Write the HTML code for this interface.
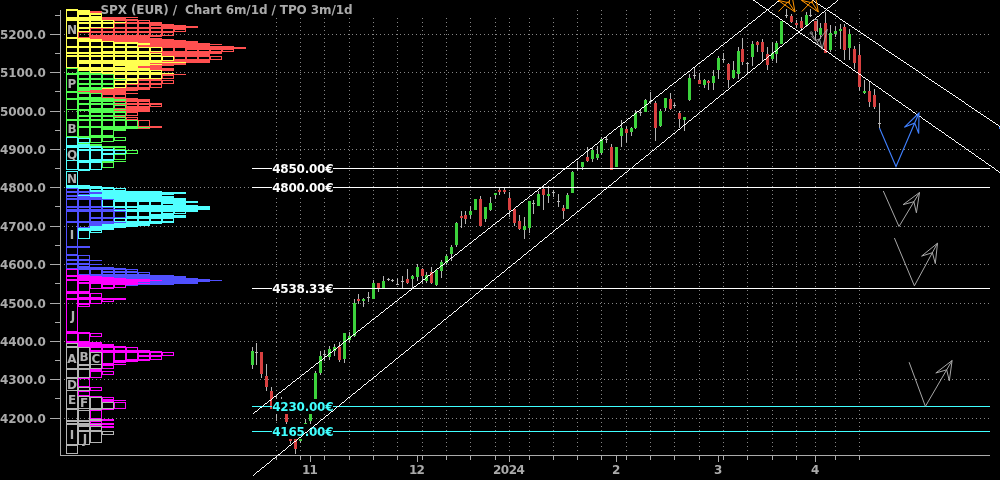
<!DOCTYPE html>
<html lang="en"><head><meta charset="utf-8"><title>SPX (EUR) / Chart 6m/1d / TPO 3m/1d</title>
<style>
html,body{margin:0;padding:0;background:#000;overflow:hidden}
body{width:1000px;height:480px;position:relative;font-family:"DejaVu Sans","Liberation Sans",sans-serif}
svg{position:absolute;left:0;top:0;display:block}
text{font-family:"DejaVu Sans","Liberation Sans",sans-serif;font-weight:bold;font-size:12px}
.ax{fill:#aaa}
.g{stroke:#868686;stroke-width:1;stroke-dasharray:1 3;fill:none}
.c{shape-rendering:crispEdges}
</style></head><body>
<svg width="1000" height="480" viewBox="0 0 1000 480">
<rect width="1000" height="480" fill="#000"/>
<g class="g c">
<line x1="276.5" y1="18" x2="276.5" y2="452"/>
<line x1="300.5" y1="18" x2="300.5" y2="452"/>
<line x1="324.5" y1="18" x2="324.5" y2="452"/>
<line x1="349.5" y1="18" x2="349.5" y2="452"/>
<line x1="373.5" y1="18" x2="373.5" y2="452"/>
<line x1="397.5" y1="18" x2="397.5" y2="452"/>
<line x1="422.5" y1="18" x2="422.5" y2="452"/>
<line x1="446.5" y1="18" x2="446.5" y2="452"/>
<line x1="470.5" y1="18" x2="470.5" y2="452"/>
<line x1="495.5" y1="18" x2="495.5" y2="452"/>
<line x1="509.5" y1="18" x2="509.5" y2="452"/>
<line x1="529.5" y1="18" x2="529.5" y2="452"/>
<line x1="553.5" y1="18" x2="553.5" y2="452"/>
<line x1="577.5" y1="10" x2="577.5" y2="452"/>
<line x1="601.5" y1="10" x2="601.5" y2="452"/>
<line x1="626.5" y1="10" x2="626.5" y2="452"/>
<line x1="650.5" y1="10" x2="650.5" y2="452"/>
<line x1="674.5" y1="10" x2="674.5" y2="452"/>
<line x1="699.5" y1="10" x2="699.5" y2="452"/>
<line x1="723.5" y1="10" x2="723.5" y2="452"/>
<line x1="747.5" y1="10" x2="747.5" y2="452"/>
<line x1="772.5" y1="10" x2="772.5" y2="452"/>
<line x1="796.5" y1="10" x2="796.5" y2="452"/>
<line x1="815.5" y1="10" x2="815.5" y2="452"/>
<line x1="835.5" y1="10" x2="835.5" y2="452"/>
<line x1="859.5" y1="10" x2="859.5" y2="452"/>
<line x1="64" y1="418.5" x2="990" y2="418.5"/>
<line x1="64" y1="379.5" x2="990" y2="379.5"/>
<line x1="64" y1="341.5" x2="990" y2="341.5"/>
<line x1="64" y1="303.5" x2="990" y2="303.5"/>
<line x1="64" y1="264.5" x2="990" y2="264.5"/>
<line x1="64" y1="226.5" x2="990" y2="226.5"/>
<line x1="64" y1="187.5" x2="990" y2="187.5"/>
<line x1="64" y1="149.5" x2="990" y2="149.5"/>
<line x1="64" y1="111.5" x2="990" y2="111.5"/>
<line x1="64" y1="72.5" x2="990" y2="72.5"/>
<line x1="64" y1="34.5" x2="990" y2="34.5"/>
</g>
<g class="c"><path fill="#b4b4b4" d="M252 347h1v22h-1zM256 343h1v22h-1zM261 352h1v26h-1zM266 364h1v27h-1zM271 387h1v22h-1zM276 396h1v25h-1zM281 397h1v15h-1zM286 405h1v19h-1zM290 425h1v19h-1zM295 430h1v24h-1zM300 432h1v11h-1zM305 419h1v4h-1zM310 410h1v14h-1zM315 371h1v29h-1zM320 351h1v24h-1zM324 350h1v11h-1zM329 346h1v14h-1zM334 344h1v12h-1zM339 342h1v20h-1zM344 333h1v30h-1zM349 332h1v11h-1zM354 299h1v38h-1zM358 294h1v10h-1zM363 298h1v9h-1zM368 292h1v10h-1zM373 280h1v19h-1zM378 283h1v9h-1zM383 276h1v12h-1zM388 278h1v3h-1zM392 279h1v3h-1zM397 278h1v7h-1zM402 276h1v12h-1zM407 269h1v15h-1zM412 275h1v13h-1zM417 264h1v17h-1zM422 268h1v16h-1zM426 272h1v11h-1zM431 267h1v17h-1zM436 270h1v16h-1zM441 260h1v18h-1zM446 254h1v11h-1zM451 245h1v16h-1zM456 222h1v25h-1zM461 211h1v17h-1zM465 211h1v13h-1zM470 206h1v13h-1zM475 199h1v11h-1zM480 196h1v30h-1zM485 207h1v15h-1zM490 197h1v14h-1zM495 193h1v6h-1zM499 188h1v7h-1zM504 188h1v6h-1zM509 192h1v25h-1zM514 209h1v17h-1zM519 215h1v15h-1zM524 217h1v22h-1zM529 201h1v32h-1zM533 200h1v14h-1zM538 191h1v15h-1zM543 186h1v24h-1zM548 186h1v17h-1zM553 190h1v7h-1zM558 194h1v13h-1zM563 205h1v14h-1zM567 193h1v16h-1zM572 171h1v22h-1zM577 161h1v10h-1zM582 162h1v8h-1zM587 147h1v15h-1zM592 148h1v14h-1zM597 146h1v14h-1zM601 137h1v18h-1zM606 136h1v7h-1zM611 144h1v26h-1zM616 147h1v20h-1zM621 120h1v27h-1zM626 126h1v17h-1zM631 127h1v9h-1zM635 110h1v19h-1zM640 109h1v7h-1zM645 99h1v13h-1zM650 92h1v12h-1zM655 101h1v40h-1zM660 109h1v18h-1zM665 98h1v13h-1zM670 93h1v17h-1zM674 103h1v5h-1zM679 111h1v17h-1zM684 117h1v14h-1zM689 74h1v27h-1zM694 68h1v11h-1zM699 73h1v11h-1zM704 79h1v9h-1zM708 80h1v10h-1zM713 70h1v20h-1zM718 56h1v23h-1zM723 53h1v10h-1zM728 63h1v25h-1zM733 61h1v18h-1zM738 47h1v32h-1zM742 38h1v27h-1zM747 62h1v12h-1zM752 41h1v25h-1zM757 41h1v11h-1zM762 39h1v23h-1zM767 47h1v23h-1zM772 42h1v19h-1zM776 41h1v22h-1zM781 21h1v23h-1zM786 9h1v9h-1zM791 14h1v9h-1zM796 20h1v8h-1zM801 17h1v14h-1zM806 12h1v15h-1zM810 9h1v8h-1zM815 21h1v19h-1zM820 23h1v16h-1zM825 12h1v41h-1zM830 25h1v27h-1zM835 26h1v11h-1zM840 24h1v25h-1zM844 24h1v36h-1zM849 29h1v31h-1zM854 46h1v23h-1zM859 44h1v47h-1zM864 80h1v14h-1zM869 82h1v25h-1zM874 89h1v20h-1zM879 103h1v25h-1z"/><path fill="#3cd23c" d="M251 351h3v14h-3zM299 436h3v5h-3zM304 423h3v1h-3zM309 412h3v9h-3zM314 373h3v27h-3zM319 356h3v17h-3zM328 349h3v8h-3zM333 347h3v4h-3zM343 333h3v26h-3zM348 336h3v4h-3zM353 303h3v33h-3zM362 299h3v2h-3zM372 283h3v16h-3zM382 281h3v7h-3zM411 276h3v3h-3zM416 267h3v10h-3zM425 275h3v6h-3zM435 270h3v15h-3zM440 262h3v9h-3zM445 256h3v7h-3zM450 247h3v7h-3zM455 223h3v22h-3zM469 211h3v4h-3zM474 199h3v11h-3zM484 207h3v12h-3zM489 203h3v7h-3zM494 193h3v2h-3zM523 226h3v4h-3zM528 201h3v27h-3zM537 194h3v12h-3zM547 194h3v2h-3zM566 195h3v14h-3zM571 172h3v21h-3zM581 162h3v5h-3zM591 150h3v9h-3zM596 154h3v4h-3zM600 139h3v14h-3zM615 147h3v20h-3zM620 128h3v8h-3zM630 128h3v4h-3zM634 113h3v15h-3zM644 100h3v12h-3zM659 111h3v15h-3zM664 98h3v10h-3zM683 117h3v3h-3zM688 78h3v22h-3zM703 80h3v5h-3zM712 76h3v7h-3zM717 58h3v12h-3zM732 70h3v8h-3zM737 51h3v23h-3zM751 44h3v13h-3zM771 53h3v6h-3zM775 43h3v11h-3zM780 21h3v23h-3zM805 15h3v10h-3zM819 28h3v7h-3zM829 33h3v17h-3zM834 31h3v3h-3zM839 29h3v2h-3zM848 34h3v14h-3zM863 91h3v2h-3z"/><path fill="#d84040" d="M260 352h3v22h-3zM265 376h3v11h-3zM270 391h3v18h-3zM285 408h3v14h-3zM289 428h3v13h-3zM294 432h3v17h-3zM338 347h3v13h-3zM357 299h3v2h-3zM377 283h3v5h-3zM406 279h3v4h-3zM421 269h3v7h-3zM430 272h3v11h-3zM460 216h3v2h-3zM464 215h3v4h-3zM479 199h3v27h-3zM498 190h3v2h-3zM503 190h3v2h-3zM508 198h3v12h-3zM513 209h3v14h-3zM518 221h3v8h-3zM542 189h3v6h-3zM562 208h3v3h-3zM586 157h3v4h-3zM610 147h3v23h-3zM625 129h3v4h-3zM654 103h3v25h-3zM669 99h3v10h-3zM678 113h3v6h-3zM698 80h3v4h-3zM707 81h3v2h-3zM727 64h3v16h-3zM741 49h3v13h-3zM756 42h3v3h-3zM761 42h3v10h-3zM766 54h3v11h-3zM790 16h3v6h-3zM795 23h3v2h-3zM800 21h3v7h-3zM814 21h3v10h-3zM824 23h3v30h-3zM843 27h3v23h-3zM853 49h3v14h-3zM858 55h3v32h-3zM868 91h3v11h-3zM873 95h3v12h-3z"/><path fill="#b4b4b4" d="M255 352h3v1h-3zM275 405h3v1h-3zM280 405h3v1h-3zM323 354h3v1h-3zM367 297h3v1h-3zM387 279h3v1h-3zM391 280h3v1h-3zM396 284h3v1h-3zM401 281h3v1h-3zM532 203h3v1h-3zM552 192h3v1h-3zM557 201h3v1h-3zM576 168h3v1h-3zM605 139h3v1h-3zM639 112h3v1h-3zM649 101h3v1h-3zM673 105h3v1h-3zM693 75h3v1h-3zM722 59h3v1h-3zM746 63h3v1h-3zM785 15h3v1h-3zM809 15h3v1h-3zM878 123h3v1h-3z"/></g>
<g class="c"><path fill="#ff5050" d="M90 11h12v2h-12zM102 17h36v1h-36zM102 18h24v1h-24zM102 19h36v1h-36zM114 20h36v1h-36zM137 21h2v1h-2zM125 21h2v1h-2zM114 21h1v1h-1zM149 21h1v1h-1zM126 22h36v1h-36zM114 23h48v1h-48zM149 24h25v1h-25zM149 25h37v1h-37zM137 24h2v3h-2zM125 24h2v3h-2zM114 24h1v3h-1zM161 26h37v1h-37zM149 26h2v1h-2zM114 27h84v1h-84zM90 28h96v1h-96zM173 29h13v1h-13zM101 29h2v2h-2zM90 29h1v2h-1zM137 29h2v2h-2zM149 29h2v2h-2zM125 29h2v2h-2zM161 29h2v2h-2zM113 29h2v2h-2zM173 30h2v1h-2zM185 30h1v1h-1zM90 31h96v1h-96zM78 32h96v1h-96zM89 33h2v2h-2zM101 33h2v2h-2zM137 33h2v2h-2zM149 33h2v2h-2zM173 33h1v2h-1zM125 33h2v2h-2zM161 33h2v2h-2zM113 33h2v2h-2zM89 35h85v1h-85zM78 33h1v4h-1zM89 36h73v1h-73zM78 37h72v1h-72zM90 38h72v1h-72zM102 39h72v1h-72zM102 40h84v1h-84zM114 41h84v1h-84zM138 42h60v1h-60zM150 43h60v1h-60zM150 44h72v1h-72zM138 45h72v1h-72zM138 46h96v1h-96zM162 47h84v1h-84zM185 48h61v1h-61zM185 49h49v1h-49zM162 48h1v3h-1zM173 48h2v3h-2zM209 50h2v1h-2zM185 50h2v1h-2zM233 50h1v1h-1zM221 50h2v1h-2zM197 50h2v1h-2zM162 51h72v1h-72zM150 52h72v1h-72zM162 53h60v1h-60zM162 54h48v2h-48zM174 56h48v1h-48zM221 57h1v2h-1zM209 57h2v2h-2zM185 57h2v2h-2zM174 57h1v2h-1zM197 57h2v2h-2zM174 59h48v1h-48zM174 60h36v1h-36zM162 61h48v1h-48zM186 62h24v1h-24zM150 63h36v1h-36zM162 64h24v1h-24zM150 65h24v1h-24zM138 66h24v2h-24zM150 68h24v2h-24zM162 70h12v1h-12zM162 74h24v1h-24zM162 75h12v1h-12zM162 76h1v2h-1zM173 76h1v2h-1zM162 78h12v1h-12zM138 79h24v1h-24zM138 80h36v1h-36zM138 81h1v2h-1zM149 81h2v2h-2zM173 81h1v2h-1zM161 81h2v2h-2zM138 83h36v1h-36zM126 84h36v1h-36zM161 85h1v2h-1zM137 85h2v2h-2zM149 85h2v2h-2zM126 85h1v2h-1zM126 87h36v1h-36zM114 88h36v1h-36zM102 89h48v1h-48zM90 90h48v1h-48zM78 91h48v1h-48zM90 92h36v1h-36zM102 93h36v1h-36zM102 94h24v1h-24zM102 95h1v2h-1zM125 95h1v2h-1zM113 95h2v2h-2zM102 97h24v1h-24zM114 98h24v1h-24zM126 99h24v2h-24zM114 101h36v1h-36zM137 102h2v1h-2zM126 102h1v1h-1zM149 102h1v1h-1zM126 103h36v1h-36zM114 104h48v1h-48zM137 105h2v1h-2zM149 105h2v1h-2zM126 105h1v1h-1zM161 105h1v1h-1zM126 106h36v1h-36zM126 107h24v1h-24zM114 108h36v1h-36zM126 109h24v1h-24zM114 110h36v1h-36zM126 111h24v1h-24zM126 112h12v1h-12zM137 113h1v2h-1zM126 113h1v2h-1zM126 115h12v1h-12zM114 116h12v1h-12zM126 117h12v1h-12zM137 118h1v1h-1zM126 118h1v1h-1zM126 119h12v1h-12zM138 120h12v1h-12zM138 121h1v5h-1zM149 121h1v5h-1zM138 126h24v1h-24zM150 127h12v1h-12zM138 128h12v1h-12z"/><path fill="#ffff50" d="M66 9h12v1h-12zM66 10h24v1h-24zM77 11h13v2h-13zM77 13h25v2h-25zM101 15h1v1h-1zM89 15h2v1h-2zM66 11h1v6h-1zM77 15h2v2h-2zM89 16h13v1h-13zM66 17h36v3h-36zM66 20h48v1h-48zM101 21h2v1h-2zM89 21h2v1h-2zM77 21h2v1h-2zM113 21h1v1h-1zM77 22h49v1h-49zM77 23h37v1h-37zM101 24h2v3h-2zM89 24h2v3h-2zM77 24h2v3h-2zM113 24h1v3h-1zM77 27h37v1h-37zM77 28h13v1h-13zM89 29h1v2h-1zM77 29h2v2h-2zM77 31h13v1h-13zM66 21h1v16h-1zM77 32h1v5h-1zM66 37h12v1h-12zM66 38h24v1h-24zM77 39h25v2h-25zM77 41h37v1h-37zM113 42h25v1h-25zM113 43h37v1h-37zM137 44h13v1h-13zM66 39h1v7h-1zM101 42h2v4h-2zM89 42h2v4h-2zM77 42h2v4h-2zM113 44h2v2h-2zM125 44h2v2h-2zM137 45h1v1h-1zM66 46h72v1h-72zM66 47h96v1h-96zM113 48h2v3h-2zM101 48h2v3h-2zM137 48h2v3h-2zM149 48h2v3h-2zM125 48h2v3h-2zM161 48h1v3h-1zM66 48h1v4h-1zM89 48h2v4h-2zM77 48h2v4h-2zM101 51h61v1h-61zM66 52h84v1h-84zM66 53h96v1h-96zM66 54h1v1h-1zM113 54h2v1h-2zM101 54h2v1h-2zM89 54h2v1h-2zM137 54h2v1h-2zM149 54h2v1h-2zM77 54h2v1h-2zM125 54h2v1h-2zM161 54h1v1h-1zM66 55h96v1h-96zM66 56h108v1h-108zM113 57h2v3h-2zM101 57h2v3h-2zM89 57h2v3h-2zM137 57h2v3h-2zM149 57h2v3h-2zM77 57h2v3h-2zM173 57h1v3h-1zM125 57h2v3h-2zM161 57h2v3h-2zM77 60h97v1h-97zM77 61h85v1h-85zM77 62h109v1h-109zM77 63h73v1h-73zM113 64h49v1h-49zM113 65h37v1h-37zM66 57h1v10h-1zM101 64h2v3h-2zM89 64h2v3h-2zM77 64h2v3h-2zM113 66h2v1h-2zM125 66h13v1h-13zM66 67h72v1h-72zM78 68h72v2h-72zM78 70h84v1h-84zM113 71h2v1h-2zM90 71h1v1h-1zM101 71h2v1h-2zM137 71h2v1h-2zM149 71h2v1h-2zM125 71h2v1h-2zM161 71h1v1h-1zM90 72h72v1h-72zM102 73h72v1h-72zM114 74h48v1h-48zM137 75h2v3h-2zM149 75h2v3h-2zM125 75h2v3h-2zM114 75h1v3h-1zM161 75h1v3h-1zM114 78h48v1h-48zM126 79h12v1h-12zM114 80h24v1h-24zM137 81h1v2h-1zM125 81h2v2h-2zM114 81h1v2h-1zM114 83h24v1h-24zM114 84h12v1h-12zM125 85h1v2h-1zM114 85h1v2h-1zM114 87h12v1h-12zM102 88h12v1h-12z"/><path fill="#50ff50" d="M66 68h12v1h-12zM77 69h1v2h-1zM89 71h1v1h-1zM77 71h2v1h-2zM66 69h1v4h-1zM77 72h13v1h-13zM66 73h36v1h-36zM66 74h48v1h-48zM101 75h2v3h-2zM89 75h2v3h-2zM77 75h2v3h-2zM113 75h1v3h-1zM77 78h37v1h-37zM77 79h49v1h-49zM101 80h2v3h-2zM89 80h2v3h-2zM77 80h2v3h-2zM113 80h1v3h-1zM77 83h37v2h-37zM101 85h2v2h-2zM89 85h2v2h-2zM77 85h2v2h-2zM113 85h1v2h-1zM77 87h37v1h-37zM77 88h25v2h-25zM66 75h1v16h-1zM77 90h13v1h-13zM66 91h12v1h-12zM66 92h24v1h-24zM77 93h25v1h-25zM89 94h2v3h-2zM77 94h2v3h-2zM101 94h1v3h-1zM66 93h1v5h-1zM77 97h25v1h-25zM66 98h48v1h-48zM66 99h60v1h-60zM89 100h37v1h-37zM89 101h25v1h-25zM77 100h2v3h-2zM101 102h2v1h-2zM89 102h2v1h-2zM125 102h1v1h-1zM113 102h2v1h-2zM77 103h49v1h-49zM77 104h37v1h-37zM113 105h13v1h-13zM101 105h2v3h-2zM89 105h2v3h-2zM125 106h1v2h-1zM113 106h2v2h-2zM66 100h1v9h-1zM77 105h2v4h-2zM89 108h25v1h-25zM66 109h60v1h-60zM77 110h37v1h-37zM89 111h37v2h-37zM77 111h2v4h-2zM101 113h2v2h-2zM89 113h2v2h-2zM125 113h1v2h-1zM113 113h2v2h-2zM77 115h49v1h-49zM77 116h37v1h-37zM113 117h13v1h-13zM66 110h1v9h-1zM101 117h2v2h-2zM89 117h2v2h-2zM77 117h2v2h-2zM125 118h1v1h-1zM113 118h2v1h-2zM66 119h60v1h-60zM66 120h72v1h-72zM101 121h2v5h-2zM89 121h2v5h-2zM137 121h1v5h-1zM125 121h2v5h-2zM77 121h2v5h-2zM113 121h2v5h-2zM77 126h61v1h-61zM77 127h73v1h-73zM101 128h37v1h-37zM101 129h25v1h-25zM113 130h13v1h-13zM89 128h2v7h-2zM101 130h2v5h-2zM113 131h1v4h-1zM66 121h1v15h-1zM77 128h2v8h-2zM89 135h25v1h-25zM66 136h48v1h-48zM78 137h48v1h-48zM125 138h1v2h-1zM113 138h2v2h-2zM101 138h2v3h-2zM113 140h13v1h-13zM90 138h1v4h-1zM101 141h13v1h-13zM90 142h12v1h-12zM78 143h12v1h-12zM90 144h12v2h-12zM102 146h24v2h-24zM125 148h1v1h-1zM114 148h1v1h-1zM114 149h12v1h-12zM126 150h12v1h-12zM137 151h1v2h-1zM126 151h1v2h-1zM126 153h12v1h-12zM114 154h12v1h-12zM125 155h1v4h-1zM114 155h1v4h-1zM114 159h12v1h-12zM102 161h24v1h-24zM102 162h12v1h-12zM102 163h1v4h-1zM113 163h1v4h-1zM102 167h12v1h-12z"/><path fill="#50ffff" d="M66 137h12v1h-12zM77 138h13v1h-13zM89 139h1v3h-1zM77 139h2v3h-2zM77 142h13v1h-13zM77 143h1v1h-1zM66 138h1v7h-1zM77 144h13v1h-13zM66 145h24v1h-24zM66 146h36v2h-36zM113 148h1v1h-1zM101 148h2v1h-2zM89 148h2v1h-2zM77 148h2v1h-2zM77 149h37v1h-37zM77 150h49v1h-49zM113 151h2v2h-2zM101 151h2v2h-2zM125 151h1v2h-1zM101 153h25v1h-25zM101 154h13v1h-13zM89 151h2v8h-2zM113 155h1v4h-1zM101 155h2v4h-2zM66 148h1v12h-1zM77 151h2v9h-2zM89 159h25v1h-25zM66 160h48v1h-48zM77 161h25v2h-25zM66 161h1v8h-1zM89 163h2v6h-2zM77 163h2v6h-2zM101 163h1v6h-1zM66 169h36v1h-36zM78 170h12v1h-12zM66 171h12v1h-12zM66 172h1v13h-1zM77 172h1v13h-1zM66 185h24v1h-24zM66 186h36v1h-36zM66 187h48v1h-48zM78 188h48v1h-48zM113 189h2v1h-2zM101 189h2v1h-2zM90 189h1v1h-1zM125 189h1v1h-1zM90 190h36v1h-36zM90 191h72v1h-72zM102 192h84v2h-84zM90 194h84v1h-84zM78 195h84v1h-84zM90 196h84v1h-84zM102 197h72v1h-72zM102 198h84v1h-84zM114 199h72v1h-72zM113 200h73v1h-73zM113 201h85v1h-85zM161 202h37v1h-37zM161 203h25v1h-25zM149 202h2v3h-2zM137 202h2v3h-2zM161 204h2v1h-2zM173 204h13v1h-13zM102 200h1v6h-1zM113 202h2v4h-2zM125 202h2v4h-2zM137 205h61v1h-61zM102 206h108v1h-108zM114 207h96v1h-96zM114 208h1v1h-1zM137 208h73v1h-73zM125 208h2v1h-2zM126 209h84v1h-84zM114 210h84v1h-84zM126 211h72v1h-72zM173 212h2v1h-2zM161 212h2v1h-2zM185 212h1v1h-1zM149 212h2v2h-2zM161 213h25v1h-25zM149 214h25v1h-25zM126 212h1v4h-1zM137 212h2v4h-2zM149 215h37v1h-37zM126 216h60v2h-60zM114 218h60v1h-60zM114 219h1v2h-1zM173 219h1v2h-1zM161 219h2v2h-2zM149 219h2v2h-2zM137 219h2v2h-2zM125 219h2v2h-2zM114 221h60v1h-60zM126 222h48v1h-48zM114 223h48v1h-48zM102 224h48v2h-48zM90 226h48v1h-48zM90 227h36v1h-36zM78 228h36v2h-36zM78 230h24v1h-24zM89 231h2v1h-2zM101 231h1v1h-1zM89 232h13v1h-13zM78 231h1v7h-1zM89 233h1v5h-1zM78 238h12v1h-12z"/><path fill="#5050ff" d="M66 188h12v1h-12zM66 189h1v2h-1zM89 189h1v2h-1zM77 189h2v2h-2zM66 191h24v1h-24zM66 192h36v1h-36zM89 193h13v1h-13zM77 193h2v1h-2zM66 193h1v2h-1zM77 194h13v1h-13zM66 195h12v1h-12zM66 196h24v1h-24zM66 197h1v1h-1zM77 197h25v1h-25zM66 198h36v1h-36zM66 199h48v1h-48zM66 200h1v6h-1zM89 200h2v6h-2zM77 200h2v6h-2zM101 200h1v6h-1zM66 206h36v1h-36zM66 207h48v1h-48zM66 208h1v1h-1zM101 208h2v1h-2zM89 208h2v1h-2zM77 208h2v1h-2zM113 208h1v1h-1zM66 209h60v1h-60zM66 210h48v1h-48zM66 211h60v1h-60zM101 212h2v5h-2zM125 212h1v5h-1zM89 212h2v5h-2zM113 212h2v5h-2zM89 217h37v1h-37zM89 218h25v1h-25zM66 212h1v9h-1zM77 212h2v9h-2zM101 219h2v2h-2zM89 219h2v2h-2zM113 219h1v2h-1zM66 221h48v1h-48zM66 222h60v1h-60zM89 223h25v1h-25zM89 224h13v2h-13zM77 223h2v4h-2zM89 226h1v1h-1zM77 227h13v1h-13zM66 223h1v23h-1zM77 228h1v18h-1zM66 246h24v2h-24zM66 248h1v6h-1zM77 248h1v6h-1zM66 254h12v1h-12zM66 255h24v1h-24zM89 256h1v3h-1zM66 256h1v3h-1zM77 256h2v3h-2zM66 259h24v1h-24zM66 260h36v1h-36zM89 261h1v2h-1zM66 261h1v2h-1zM77 261h2v2h-2zM66 263h24v1h-24zM66 264h36v1h-36zM89 265h1v1h-1zM77 265h2v1h-2zM77 266h13v1h-13zM66 265h1v3h-1zM77 267h37v1h-37zM66 268h60v1h-60zM78 269h60v1h-60zM101 270h2v1h-2zM137 270h1v1h-1zM125 270h2v1h-2zM113 270h2v1h-2zM101 271h37v1h-37zM101 272h49v1h-49zM89 270h2v4h-2zM78 270h1v4h-1zM101 273h2v1h-2zM125 273h2v1h-2zM137 273h2v1h-2zM113 273h2v1h-2zM149 273h1v1h-1zM78 274h72v1h-72zM90 275h84v1h-84zM102 276h84v1h-84zM114 277h72v1h-72zM126 278h72v1h-72zM150 279h60v1h-60zM162 280h60v1h-60zM150 281h60v1h-60zM138 282h60v1h-60zM150 283h48v1h-48zM138 284h36v1h-36zM126 285h12v1h-12z"/><path fill="#ff00ff" d="M66 269h12v1h-12zM77 270h1v5h-1zM66 270h1v5h-1zM66 275h24v1h-24zM66 276h36v1h-36zM77 277h37v1h-37zM66 277h1v2h-1zM77 278h49v1h-49zM66 279h84v1h-84zM66 280h96v1h-96zM77 281h2v1h-2zM89 281h61v1h-61zM77 282h61v1h-61zM77 283h73v1h-73zM101 284h37v1h-37zM113 285h2v2h-2zM101 285h2v2h-2zM125 285h1v2h-1zM89 284h2v4h-2zM101 287h25v1h-25zM89 288h25v1h-25zM66 281h1v10h-1zM77 284h2v7h-2zM89 289h1v2h-1zM66 291h24v2h-24zM66 293h36v1h-36zM89 294h2v3h-2zM77 294h2v3h-2zM101 294h1v3h-1zM66 294h1v4h-1zM77 297h25v1h-25zM66 298h60v2h-60zM113 300h1v1h-1zM101 300h2v1h-2zM101 301h13v1h-13zM89 300h2v3h-2zM77 300h2v3h-2zM101 302h1v1h-1zM77 303h25v1h-25zM77 304h13v1h-13zM77 305h2v1h-2zM89 305h1v1h-1zM77 306h13v1h-13zM66 300h1v31h-1zM77 307h1v24h-1zM66 331h12v1h-12zM66 332h24v1h-24zM66 333h36v1h-36zM89 334h2v2h-2zM101 334h1v2h-1zM89 336h13v1h-13zM77 334h2v7h-2zM66 334h1v7h-1zM89 337h1v4h-1zM66 341h24v1h-24zM66 342h36v1h-36zM78 343h24v1h-24zM78 344h36v2h-36zM78 346h48v1h-48zM90 347h48v1h-48zM125 348h2v2h-2zM113 348h2v2h-2zM90 348h1v2h-1zM101 348h2v2h-2zM137 348h1v2h-1zM90 350h60v1h-60zM90 351h72v1h-72zM102 352h72v1h-72zM137 353h2v2h-2zM149 353h2v2h-2zM173 353h1v2h-1zM161 353h2v2h-2zM137 355h37v1h-37zM137 356h25v1h-25zM125 353h2v6h-2zM137 357h2v2h-2zM149 357h2v2h-2zM161 357h1v2h-1zM113 353h2v7h-2zM125 359h37v1h-37zM113 360h37v1h-37zM113 361h25v1h-25zM102 353h1v10h-1zM113 362h13v1h-13zM102 363h12v1h-12zM102 364h24v1h-24zM102 365h12v1h-12zM113 366h1v2h-1zM102 366h1v2h-1zM102 368h12v1h-12zM90 369h12v2h-12zM90 371h24v1h-24zM113 372h1v2h-1zM101 372h2v2h-2zM101 374h13v1h-13zM90 372h1v5h-1zM101 375h1v2h-1zM90 377h12v1h-12zM78 378h12v1h-12zM78 379h1v7h-1zM89 379h1v7h-1zM78 386h12v1h-12zM90 387h12v1h-12zM101 388h1v2h-1zM90 388h1v2h-1zM90 390h12v1h-12zM78 391h12v1h-12zM78 392h1v3h-1zM89 392h1v3h-1zM78 395h12v1h-12zM90 396h12v1h-12zM102 397h12v1h-12zM113 398h1v1h-1zM102 398h1v1h-1zM102 399h12v1h-12zM102 400h24v1h-24zM102 401h12v1h-12zM114 402h12v1h-12zM114 403h1v5h-1zM125 403h1v5h-1zM114 408h12v1h-12zM102 409h12v1h-12zM90 410h12v1h-12zM101 411h1v7h-1zM90 411h1v7h-1zM90 418h12v1h-12zM102 419h12v2h-12zM90 421h12v1h-12zM101 422h1v1h-1zM90 422h1v1h-1zM90 423h24v1h-24zM102 424h12v1h-12zM90 425h12v1h-12zM102 426h12v2h-12z"/><path fill="#b4b4b4" d="M66 343h12v1h-12zM77 344h1v2h-1zM66 344h1v2h-1zM66 346h12v1h-12zM66 347h24v1h-24zM89 348h1v4h-1zM89 352h13v1h-13zM77 348h2v16h-2zM89 353h2v11h-2zM101 353h1v11h-1zM77 364h25v1h-25zM77 365h14v1h-14zM66 348h1v20h-1zM101 365h1v3h-1zM89 366h2v2h-2zM77 366h2v2h-2zM66 368h36v1h-36zM66 369h24v1h-24zM89 370h1v7h-1zM77 370h2v7h-2zM66 370h1v7h-1zM66 377h24v1h-24zM66 378h12v1h-12zM77 379h1v8h-1zM77 387h13v1h-13zM66 379h1v11h-1zM77 388h2v2h-2zM89 388h1v2h-1zM66 390h24v1h-24zM77 391h1v5h-1zM77 396h13v1h-13zM89 397h13v1h-13zM101 398h1v4h-1zM101 402h13v1h-13zM66 391h1v17h-1zM77 397h2v11h-2zM89 398h2v10h-2zM101 403h2v5h-2zM113 403h1v5h-1zM66 408h48v1h-48zM89 409h13v1h-13zM66 409h13v1h-13zM77 410h13v1h-13zM89 411h1v8h-1zM66 410h1v10h-1zM77 411h2v9h-2zM89 419h13v1h-13zM66 420h36v1h-36zM66 421h24v1h-24zM66 422h1v1h-1zM77 422h2v1h-2zM89 422h1v1h-1zM66 423h24v1h-24zM66 424h36v1h-36zM77 425h13v1h-13zM77 426h25v1h-25zM89 427h2v3h-2zM77 427h2v3h-2zM101 427h1v3h-1zM77 430h25v1h-25zM77 431h37v1h-37zM101 432h2v2h-2zM113 432h1v2h-1zM101 434h13v1h-13zM89 432h2v10h-2zM101 435h1v7h-1zM89 442h13v1h-13zM66 425h1v19h-1zM77 432h2v12h-2zM89 443h1v1h-1zM66 444h24v1h-24zM66 445h12v1h-12zM77 446h1v7h-1zM66 446h1v7h-1zM66 453h12v1h-12z"/></g><rect x="67" y="23" width="10" height="13" fill="#000"/><text x="72" y="34" text-anchor="middle" fill="#b0b0b0">N</text><rect x="67" y="77" width="10" height="13" fill="#000"/><text x="72" y="88" text-anchor="middle" fill="#b0b0b0">P</text><rect x="67" y="122" width="10" height="13" fill="#000"/><text x="72" y="133" text-anchor="middle" fill="#b0b0b0">B</text><rect x="67" y="148" width="10" height="12" fill="#000"/><text x="72" y="159" text-anchor="middle" fill="#b0b0b0">Q</text><rect x="67" y="172" width="10" height="13" fill="#000"/><text x="72" y="183" text-anchor="middle" fill="#b0b0b0">N</text><rect x="67" y="228" width="10" height="13" fill="#000"/><text x="72" y="239" text-anchor="middle" fill="#b0b0b0">I</text><rect x="67" y="309" width="10" height="13" fill="#000"/><text x="73" y="320" text-anchor="middle" fill="#b0b0b0">J</text><rect x="67" y="352" width="10" height="13" fill="#000"/><text x="72" y="363" text-anchor="middle" fill="#b0b0b0">A</text><rect x="79" y="350" width="10" height="13" fill="#000"/><text x="84" y="361" text-anchor="middle" fill="#b0b0b0">B</text><rect x="91" y="353" width="10" height="11" fill="#000"/><text x="96" y="363" text-anchor="middle" fill="#b0b0b0">C</text><rect x="67" y="379" width="10" height="11" fill="#000"/><text x="72" y="389" text-anchor="middle" fill="#b0b0b0">D</text><rect x="67" y="393" width="10" height="13" fill="#000"/><text x="72" y="404" text-anchor="middle" fill="#b0b0b0">E</text><rect x="79" y="397" width="10" height="11" fill="#000"/><text x="84" y="407" text-anchor="middle" fill="#b0b0b0">F</text><rect x="67" y="428" width="10" height="13" fill="#000"/><text x="72" y="439" text-anchor="middle" fill="#b0b0b0">I</text><rect x="79" y="432" width="10" height="12" fill="#000"/><text x="85" y="443" text-anchor="middle" fill="#b0b0b0">J</text>
<g class="c" stroke="#aaa" stroke-width="1" fill="none">
<path d="M60.5 10V456M60 455.5H990"/>
<path d="M50 418.5H60M50 379.5H60M50 341.5H60M50 303.5H60M50 264.5H60M50 226.5H60M50 187.5H60M50 149.5H60M50 111.5H60M50 72.5H60M50 34.5H60M55 15.5H60M55 53.5H60M55 91.5H60M55 130.5H60M55 168.5H60M55 206.5H60M55 245.5H60M55 283.5H60M55 322.5H60M55 360.5H60M55 398.5H60M276.5 455V460M300.5 455V460M324.5 455V460M349.5 455V460M373.5 455V460M397.5 455V460M422.5 455V460M446.5 455V460M470.5 455V460M495.5 455V460M529.5 455V460M553.5 455V460M577.5 455V460M601.5 455V460M626.5 455V460M650.5 455V460M674.5 455V460M699.5 455V460M723.5 455V460M747.5 455V460M772.5 455V460M796.5 455V460M835.5 455V460M859.5 455V460M310.5 455V462M417.5 455V462M509.5 455V462M616.5 455V462M718.5 455V462M815.5 455V462"/>
</g>
<text class="ax" x="0" y="423.0" textLength="45.8" lengthAdjust="spacing">4200.0</text>
<text class="ax" x="0" y="384.0" textLength="45.8" lengthAdjust="spacing">4300.0</text>
<text class="ax" x="0" y="346.0" textLength="45.8" lengthAdjust="spacing">4400.0</text>
<text class="ax" x="0" y="308.0" textLength="45.8" lengthAdjust="spacing">4500.0</text>
<text class="ax" x="0" y="269.0" textLength="45.8" lengthAdjust="spacing">4600.0</text>
<text class="ax" x="0" y="231.0" textLength="45.8" lengthAdjust="spacing">4700.0</text>
<text class="ax" x="0" y="192.0" textLength="45.8" lengthAdjust="spacing">4800.0</text>
<text class="ax" x="0" y="154.0" textLength="45.8" lengthAdjust="spacing">4900.0</text>
<text class="ax" x="0" y="116.0" textLength="45.8" lengthAdjust="spacing">5000.0</text>
<text class="ax" x="0" y="77.0" textLength="45.8" lengthAdjust="spacing">5100.0</text>
<text class="ax" x="0" y="39.0" textLength="45.8" lengthAdjust="spacing">5200.0</text>
<text class="ax" x="301.9" y="474" textLength="16" lengthAdjust="spacing">11</text>
<text class="ax" x="408.9" y="474" textLength="16" lengthAdjust="spacing">12</text>
<text class="ax" x="492.9" y="474" textLength="32" lengthAdjust="spacing">2024</text>
<text class="ax" x="611.9" y="474" textLength="8" lengthAdjust="spacing">2</text>
<text class="ax" x="713.9" y="474" textLength="8" lengthAdjust="spacing">3</text>
<text class="ax" x="810.9" y="474" textLength="8" lengthAdjust="spacing">4</text>
<text class="ax" x="100.5" y="14" textLength="252" lengthAdjust="spacing" xml:space="preserve">SPX (EUR) /  Chart 6m/1d / TPO 3m/1d</text>
<path class="c" d="M252 168.5H990" stroke="#fff" stroke-width="1"/>
<rect x="272" y="161.0" width="61" height="15" fill="#000"/>
<text x="272.2" y="173.0" fill="#fff" textLength="61.4" lengthAdjust="spacing">4850.00€</text>
<path class="c" d="M252 187.5H990" stroke="#fff" stroke-width="1"/>
<rect x="272" y="180.0" width="61" height="15" fill="#000"/>
<text x="272.2" y="192.0" fill="#fff" textLength="61.4" lengthAdjust="spacing">4800.00€</text>
<path class="c" d="M252 288.5H990" stroke="#fff" stroke-width="1"/>
<rect x="272" y="281.0" width="61" height="15" fill="#000"/>
<text x="272.2" y="293.0" fill="#fff" textLength="61.4" lengthAdjust="spacing">4538.33€</text>
<path class="c" d="M252 406.5H990" stroke="#40ffff" stroke-width="1"/>
<rect x="272" y="399.0" width="61" height="15" fill="#000"/>
<text x="272.2" y="411.0" fill="#40ffff" textLength="61.4" lengthAdjust="spacing">4230.00€</text>
<path class="c" d="M252 431.5H990" stroke="#40ffff" stroke-width="1"/>
<rect x="272" y="424.0" width="61" height="15" fill="#000"/>
<text x="272.2" y="436.0" fill="#40ffff" textLength="61.4" lengthAdjust="spacing">4165.00€</text>
<path class="c" fill="#fff" d="M253 413h1v1h-1zM254 412h1v1h-1zM255 411h2v1h-2zM257 410h1v1h-1zM258 409h1v1h-1zM259 408h1v1h-1zM260 407h2v1h-2zM262 406h1v1h-1zM263 405h1v1h-1zM264 404h1v1h-1zM265 403h2v1h-2zM267 402h1v1h-1zM268 401h1v1h-1zM269 400h2v1h-2zM271 399h1v1h-1zM272 398h1v1h-1zM273 397h1v1h-1zM274 396h2v1h-2zM276 395h1v1h-1zM277 394h1v1h-1zM278 393h1v1h-1zM279 392h2v1h-2zM281 391h1v1h-1zM282 390h1v1h-1zM283 389h2v1h-2zM285 388h1v1h-1zM286 387h1v1h-1zM287 386h1v1h-1zM288 385h2v1h-2zM290 384h1v1h-1zM291 383h1v1h-1zM292 382h1v1h-1zM293 381h2v1h-2zM295 380h1v1h-1zM296 379h1v1h-1zM297 378h2v1h-2zM299 377h1v1h-1zM300 376h1v1h-1zM301 375h1v1h-1zM302 374h2v1h-2zM304 373h1v1h-1zM305 372h1v1h-1zM306 371h2v1h-2zM308 370h1v1h-1zM309 369h1v1h-1zM310 368h1v1h-1zM311 367h2v1h-2zM313 366h1v1h-1zM314 365h1v1h-1zM315 364h1v1h-1zM316 363h2v1h-2zM318 362h1v1h-1zM319 361h1v1h-1zM320 360h2v1h-2zM322 359h1v1h-1zM323 358h1v1h-1zM324 357h1v1h-1zM325 356h2v1h-2zM327 355h1v1h-1zM328 354h1v1h-1zM329 353h1v1h-1zM330 352h2v1h-2zM332 351h1v1h-1zM333 350h1v1h-1zM334 349h2v1h-2zM336 348h1v1h-1zM337 347h1v1h-1zM338 346h1v1h-1zM339 345h2v1h-2zM341 344h1v1h-1zM342 343h1v1h-1zM343 342h1v1h-1zM344 341h2v1h-2zM346 340h1v1h-1zM347 339h1v1h-1zM348 338h2v1h-2zM350 337h1v1h-1zM351 336h1v1h-1zM352 335h1v1h-1zM353 334h2v1h-2zM355 333h1v1h-1zM356 332h1v1h-1zM357 331h1v1h-1zM358 330h2v1h-2zM360 329h1v1h-1zM361 328h1v1h-1zM362 327h2v1h-2zM364 326h1v1h-1zM365 325h1v1h-1zM366 324h1v1h-1zM367 323h2v1h-2zM369 322h1v1h-1zM370 321h1v1h-1zM371 320h1v1h-1zM372 319h2v1h-2zM374 318h1v1h-1zM375 317h1v1h-1zM376 316h2v1h-2zM378 315h1v1h-1zM379 314h1v1h-1zM380 313h1v1h-1zM381 312h2v1h-2zM383 311h1v1h-1zM384 310h1v1h-1zM385 309h1v1h-1zM386 308h2v1h-2zM388 307h1v1h-1zM389 306h1v1h-1zM390 305h2v1h-2zM392 304h1v1h-1zM393 303h1v1h-1zM394 302h1v1h-1zM395 301h2v1h-2zM397 300h1v1h-1zM398 299h1v1h-1zM399 298h1v1h-1zM400 297h2v1h-2zM402 296h1v1h-1zM403 295h1v1h-1zM404 294h2v1h-2zM406 293h1v1h-1zM407 292h1v1h-1zM408 291h1v1h-1zM409 290h2v1h-2zM411 289h1v1h-1zM412 288h1v1h-1zM413 287h1v1h-1zM414 286h2v1h-2zM416 285h1v1h-1zM417 284h1v1h-1zM418 283h2v1h-2zM420 282h1v1h-1zM421 281h1v1h-1zM422 280h1v1h-1zM423 279h2v1h-2zM425 278h1v1h-1zM426 277h1v1h-1zM427 276h1v1h-1zM428 275h2v1h-2zM430 274h1v1h-1zM431 273h1v1h-1zM432 272h2v1h-2zM434 271h1v1h-1zM435 270h1v1h-1zM436 269h1v1h-1zM437 268h2v1h-2zM439 267h1v1h-1zM440 266h1v1h-1zM441 265h2v1h-2zM443 264h1v1h-1zM444 263h1v1h-1zM445 262h1v1h-1zM446 261h2v1h-2zM448 260h1v1h-1zM449 259h1v1h-1zM450 258h1v1h-1zM451 257h2v1h-2zM453 256h1v1h-1zM454 255h1v1h-1zM455 254h2v1h-2zM457 253h1v1h-1zM458 252h1v1h-1zM459 251h1v1h-1zM460 250h2v1h-2zM462 249h1v1h-1zM463 248h1v1h-1zM464 247h1v1h-1zM465 246h2v1h-2zM467 245h1v1h-1zM468 244h1v1h-1zM469 243h2v1h-2zM471 242h1v1h-1zM472 241h1v1h-1zM473 240h1v1h-1zM474 239h2v1h-2zM476 238h1v1h-1zM477 237h1v1h-1zM478 236h1v1h-1zM479 235h2v1h-2zM481 234h1v1h-1zM482 233h1v1h-1zM483 232h2v1h-2zM485 231h1v1h-1zM486 230h1v1h-1zM487 229h1v1h-1zM488 228h2v1h-2zM490 227h1v1h-1zM491 226h1v1h-1zM492 225h1v1h-1zM493 224h2v1h-2zM495 223h1v1h-1zM496 222h1v1h-1zM497 221h2v1h-2zM499 220h1v1h-1zM500 219h1v1h-1zM501 218h1v1h-1zM502 217h2v1h-2zM504 216h1v1h-1zM505 215h1v1h-1zM506 214h1v1h-1zM507 213h2v1h-2zM509 212h1v1h-1zM510 211h1v1h-1zM511 210h2v1h-2zM513 209h1v1h-1zM514 208h1v1h-1zM515 207h1v1h-1zM516 206h2v1h-2zM518 205h1v1h-1zM519 204h1v1h-1zM520 203h1v1h-1zM521 202h2v1h-2zM523 201h1v1h-1zM524 200h1v1h-1zM525 199h2v1h-2zM527 198h1v1h-1zM528 197h1v1h-1zM529 196h1v1h-1zM530 195h2v1h-2zM532 194h1v1h-1zM533 193h1v1h-1zM534 192h1v1h-1zM535 191h2v1h-2zM537 190h1v1h-1zM538 189h1v1h-1zM539 188h2v1h-2zM541 187h1v1h-1zM542 186h1v1h-1zM543 185h1v1h-1zM544 184h2v1h-2zM546 183h1v1h-1zM547 182h1v1h-1zM548 181h1v1h-1zM549 180h2v1h-2zM551 179h1v1h-1zM552 178h1v1h-1zM553 177h2v1h-2zM555 176h1v1h-1zM556 175h1v1h-1zM557 174h1v1h-1zM558 173h2v1h-2zM560 172h1v1h-1zM561 171h1v1h-1zM562 170h1v1h-1zM563 169h2v1h-2zM565 168h1v1h-1zM566 167h1v1h-1zM567 166h2v1h-2zM569 165h1v1h-1zM570 164h1v1h-1zM571 163h1v1h-1zM572 162h2v1h-2zM574 161h1v1h-1zM575 160h1v1h-1zM576 159h2v1h-2zM578 158h1v1h-1zM579 157h1v1h-1zM580 156h1v1h-1zM581 155h2v1h-2zM583 154h1v1h-1zM584 153h1v1h-1zM585 152h1v1h-1zM586 151h2v1h-2zM588 150h1v1h-1zM589 149h1v1h-1zM590 148h2v1h-2zM592 147h1v1h-1zM593 146h1v1h-1zM594 145h1v1h-1zM595 144h2v1h-2zM597 143h1v1h-1zM598 142h1v1h-1zM599 141h1v1h-1zM600 140h2v1h-2zM602 139h1v1h-1zM603 138h1v1h-1zM604 137h2v1h-2zM606 136h1v1h-1zM607 135h1v1h-1zM608 134h1v1h-1zM609 133h2v1h-2zM611 132h1v1h-1zM612 131h1v1h-1zM613 130h1v1h-1zM614 129h2v1h-2zM616 128h1v1h-1zM617 127h1v1h-1zM618 126h2v1h-2zM620 125h1v1h-1zM621 124h1v1h-1zM622 123h1v1h-1zM623 122h2v1h-2zM625 121h1v1h-1zM626 120h1v1h-1zM627 119h1v1h-1zM628 118h2v1h-2zM630 117h1v1h-1zM631 116h1v1h-1zM632 115h2v1h-2zM634 114h1v1h-1zM635 113h1v1h-1zM636 112h1v1h-1zM637 111h2v1h-2zM639 110h1v1h-1zM640 109h1v1h-1zM641 108h1v1h-1zM642 107h2v1h-2zM644 106h1v1h-1zM645 105h1v1h-1zM646 104h2v1h-2zM648 103h1v1h-1zM649 102h1v1h-1zM650 101h1v1h-1zM651 100h2v1h-2zM653 99h1v1h-1zM654 98h1v1h-1zM655 97h1v1h-1zM656 96h2v1h-2zM658 95h1v1h-1zM659 94h1v1h-1zM660 93h2v1h-2zM662 92h1v1h-1zM663 91h1v1h-1zM664 90h1v1h-1zM665 89h2v1h-2zM667 88h1v1h-1zM668 87h1v1h-1zM669 86h1v1h-1zM670 85h2v1h-2zM672 84h1v1h-1zM673 83h1v1h-1zM674 82h2v1h-2zM676 81h1v1h-1zM677 80h1v1h-1zM678 79h1v1h-1zM679 78h2v1h-2zM681 77h1v1h-1zM682 76h1v1h-1zM683 75h1v1h-1zM684 74h2v1h-2zM686 73h1v1h-1zM687 72h1v1h-1zM688 71h2v1h-2zM690 70h1v1h-1zM691 69h1v1h-1zM692 68h1v1h-1zM693 67h2v1h-2zM695 66h1v1h-1zM696 65h1v1h-1zM697 64h1v1h-1zM698 63h2v1h-2zM700 62h1v1h-1zM701 61h1v1h-1zM702 60h2v1h-2zM704 59h1v1h-1zM705 58h1v1h-1zM706 57h1v1h-1zM707 56h2v1h-2zM709 55h1v1h-1zM710 54h1v1h-1zM711 53h2v1h-2zM713 52h1v1h-1zM714 51h1v1h-1zM715 50h1v1h-1zM716 49h2v1h-2zM718 48h1v1h-1zM719 47h1v1h-1zM720 46h1v1h-1zM721 45h2v1h-2zM723 44h1v1h-1zM724 43h1v1h-1zM725 42h2v1h-2zM727 41h1v1h-1zM728 40h1v1h-1zM729 39h1v1h-1zM730 38h2v1h-2zM732 37h1v1h-1zM733 36h1v1h-1zM734 35h1v1h-1zM735 34h2v1h-2zM737 33h1v1h-1zM738 32h1v1h-1zM739 31h2v1h-2zM741 30h1v1h-1zM742 29h1v1h-1zM743 28h1v1h-1zM744 27h2v1h-2zM746 26h1v1h-1zM747 25h1v1h-1zM748 24h1v1h-1zM749 23h2v1h-2zM751 22h1v1h-1zM752 21h1v1h-1zM753 20h2v1h-2zM755 19h1v1h-1zM756 18h1v1h-1zM757 17h1v1h-1zM758 16h2v1h-2zM760 15h1v1h-1zM761 14h1v1h-1zM762 13h1v1h-1zM763 12h2v1h-2zM765 11h1v1h-1zM766 10h1v1h-1zM767 9h2v1h-2zM769 8h1v1h-1zM770 7h1v1h-1zM771 6h1v1h-1zM772 5h2v1h-2zM774 4h1v1h-1zM775 3h1v1h-1zM776 2h1v1h-1zM777 1h2v1h-2zM779 0h1v1h-1zM253 475h1v1h-1zM254 474h1v1h-1zM255 473h1v1h-1zM256 472h1v1h-1zM257 471h2v1h-2zM259 470h1v1h-1zM260 469h1v1h-1zM261 468h1v1h-1zM262 467h2v1h-2zM264 466h1v1h-1zM265 465h1v1h-1zM266 464h1v1h-1zM267 463h2v1h-2zM269 462h1v1h-1zM270 461h1v1h-1zM271 460h1v1h-1zM272 459h1v1h-1zM273 458h2v1h-2zM275 457h1v1h-1zM276 456h1v1h-1zM277 455h1v1h-1zM278 454h2v1h-2zM280 453h1v1h-1zM281 452h1v1h-1zM282 451h1v1h-1zM283 450h2v1h-2zM285 449h1v1h-1zM286 448h1v1h-1zM287 447h1v1h-1zM288 446h1v1h-1zM289 445h2v1h-2zM291 444h1v1h-1zM292 443h1v1h-1zM293 442h1v1h-1zM294 441h2v1h-2zM296 440h1v1h-1zM297 439h1v1h-1zM298 438h1v1h-1zM299 437h2v1h-2zM301 436h1v1h-1zM302 435h1v1h-1zM303 434h1v1h-1zM304 433h1v1h-1zM305 432h2v1h-2zM307 431h1v1h-1zM308 430h1v1h-1zM309 429h1v1h-1zM310 428h2v1h-2zM312 427h1v1h-1zM313 426h1v1h-1zM314 425h1v1h-1zM315 424h2v1h-2zM317 423h1v1h-1zM318 422h1v1h-1zM319 421h1v1h-1zM320 420h1v1h-1zM321 419h2v1h-2zM323 418h1v1h-1zM324 417h1v1h-1zM325 416h1v1h-1zM326 415h2v1h-2zM328 414h1v1h-1zM329 413h1v1h-1zM330 412h1v1h-1zM331 411h2v1h-2zM333 410h1v1h-1zM334 409h1v1h-1zM335 408h1v1h-1zM336 407h1v1h-1zM337 406h2v1h-2zM339 405h1v1h-1zM340 404h1v1h-1zM341 403h1v1h-1zM342 402h2v1h-2zM344 401h1v1h-1zM345 400h1v1h-1zM346 399h1v1h-1zM347 398h1v1h-1zM348 397h2v1h-2zM350 396h1v1h-1zM351 395h1v1h-1zM352 394h1v1h-1zM353 393h2v1h-2zM355 392h1v1h-1zM356 391h1v1h-1zM357 390h1v1h-1zM358 389h2v1h-2zM360 388h1v1h-1zM361 387h1v1h-1zM362 386h1v1h-1zM363 385h1v1h-1zM364 384h2v1h-2zM366 383h1v1h-1zM367 382h1v1h-1zM368 381h1v1h-1zM369 380h2v1h-2zM371 379h1v1h-1zM372 378h1v1h-1zM373 377h1v1h-1zM374 376h2v1h-2zM376 375h1v1h-1zM377 374h1v1h-1zM378 373h1v1h-1zM379 372h1v1h-1zM380 371h2v1h-2zM382 370h1v1h-1zM383 369h1v1h-1zM384 368h1v1h-1zM385 367h2v1h-2zM387 366h1v1h-1zM388 365h1v1h-1zM389 364h1v1h-1zM390 363h2v1h-2zM392 362h1v1h-1zM393 361h1v1h-1zM394 360h1v1h-1zM395 359h1v1h-1zM396 358h2v1h-2zM398 357h1v1h-1zM399 356h1v1h-1zM400 355h1v1h-1zM401 354h2v1h-2zM403 353h1v1h-1zM404 352h1v1h-1zM405 351h1v1h-1zM406 350h2v1h-2zM408 349h1v1h-1zM409 348h1v1h-1zM410 347h1v1h-1zM411 346h1v1h-1zM412 345h2v1h-2zM414 344h1v1h-1zM415 343h1v1h-1zM416 342h1v1h-1zM417 341h2v1h-2zM419 340h1v1h-1zM420 339h1v1h-1zM421 338h1v1h-1zM422 337h2v1h-2zM424 336h1v1h-1zM425 335h1v1h-1zM426 334h1v1h-1zM427 333h1v1h-1zM428 332h2v1h-2zM430 331h1v1h-1zM431 330h1v1h-1zM432 329h1v1h-1zM433 328h2v1h-2zM435 327h1v1h-1zM436 326h1v1h-1zM437 325h1v1h-1zM438 324h2v1h-2zM440 323h1v1h-1zM441 322h1v1h-1zM442 321h1v1h-1zM443 320h1v1h-1zM444 319h2v1h-2zM446 318h1v1h-1zM447 317h1v1h-1zM448 316h1v1h-1zM449 315h2v1h-2zM451 314h1v1h-1zM452 313h1v1h-1zM453 312h1v1h-1zM454 311h2v1h-2zM456 310h1v1h-1zM457 309h1v1h-1zM458 308h1v1h-1zM459 307h1v1h-1zM460 306h2v1h-2zM462 305h1v1h-1zM463 304h1v1h-1zM464 303h1v1h-1zM465 302h2v1h-2zM467 301h1v1h-1zM468 300h1v1h-1zM469 299h1v1h-1zM470 298h2v1h-2zM472 297h1v1h-1zM473 296h1v1h-1zM474 295h1v1h-1zM475 294h1v1h-1zM476 293h2v1h-2zM478 292h1v1h-1zM479 291h1v1h-1zM480 290h1v1h-1zM481 289h2v1h-2zM483 288h1v1h-1zM484 287h1v1h-1zM485 286h1v1h-1zM486 285h2v1h-2zM488 284h1v1h-1zM489 283h1v1h-1zM490 282h1v1h-1zM491 281h1v1h-1zM492 280h2v1h-2zM494 279h1v1h-1zM495 278h1v1h-1zM496 277h1v1h-1zM497 276h2v1h-2zM499 275h1v1h-1zM500 274h1v1h-1zM501 273h1v1h-1zM502 272h2v1h-2zM504 271h1v1h-1zM505 270h1v1h-1zM506 269h1v1h-1zM507 268h1v1h-1zM508 267h2v1h-2zM510 266h1v1h-1zM511 265h1v1h-1zM512 264h1v1h-1zM513 263h2v1h-2zM515 262h1v1h-1zM516 261h1v1h-1zM517 260h1v1h-1zM518 259h2v1h-2zM520 258h1v1h-1zM521 257h1v1h-1zM522 256h1v1h-1zM523 255h1v1h-1zM524 254h2v1h-2zM526 253h1v1h-1zM527 252h1v1h-1zM528 251h1v1h-1zM529 250h2v1h-2zM531 249h1v1h-1zM532 248h1v1h-1zM533 247h1v1h-1zM534 246h2v1h-2zM536 245h1v1h-1zM537 244h1v1h-1zM538 243h1v1h-1zM539 242h1v1h-1zM540 241h2v1h-2zM542 240h1v1h-1zM543 239h1v1h-1zM544 238h1v1h-1zM545 237h2v1h-2zM547 236h1v1h-1zM548 235h1v1h-1zM549 234h1v1h-1zM550 233h2v1h-2zM552 232h1v1h-1zM553 231h1v1h-1zM554 230h1v1h-1zM555 229h1v1h-1zM556 228h2v1h-2zM558 227h1v1h-1zM559 226h1v1h-1zM560 225h1v1h-1zM561 224h2v1h-2zM563 223h1v1h-1zM564 222h1v1h-1zM565 221h1v1h-1zM566 220h2v1h-2zM568 219h1v1h-1zM569 218h1v1h-1zM570 217h1v1h-1zM571 216h1v1h-1zM572 215h2v1h-2zM574 214h1v1h-1zM575 213h1v1h-1zM576 212h1v1h-1zM577 211h2v1h-2zM579 210h1v1h-1zM580 209h1v1h-1zM581 208h1v1h-1zM582 207h2v1h-2zM584 206h1v1h-1zM585 205h1v1h-1zM586 204h1v1h-1zM587 203h1v1h-1zM588 202h2v1h-2zM590 201h1v1h-1zM591 200h1v1h-1zM592 199h1v1h-1zM593 198h2v1h-2zM595 197h1v1h-1zM596 196h1v1h-1zM597 195h1v1h-1zM598 194h2v1h-2zM600 193h1v1h-1zM601 192h1v1h-1zM602 191h1v1h-1zM603 190h1v1h-1zM604 189h2v1h-2zM606 188h1v1h-1zM607 187h1v1h-1zM608 186h1v1h-1zM609 185h2v1h-2zM611 184h1v1h-1zM612 183h1v1h-1zM613 182h1v1h-1zM614 181h2v1h-2zM616 180h1v1h-1zM617 179h1v1h-1zM618 178h1v1h-1zM619 177h1v1h-1zM620 176h2v1h-2zM622 175h1v1h-1zM623 174h1v1h-1zM624 173h1v1h-1zM625 172h2v1h-2zM627 171h1v1h-1zM628 170h1v1h-1zM629 169h1v1h-1zM630 168h2v1h-2zM632 167h1v1h-1zM633 166h1v1h-1zM634 165h1v1h-1zM635 164h1v1h-1zM636 163h2v1h-2zM638 162h1v1h-1zM639 161h1v1h-1zM640 160h1v1h-1zM641 159h2v1h-2zM643 158h1v1h-1zM644 157h1v1h-1zM645 156h1v1h-1zM646 155h2v1h-2zM648 154h1v1h-1zM649 153h1v1h-1zM650 152h1v1h-1zM651 151h1v1h-1zM652 150h2v1h-2zM654 149h1v1h-1zM655 148h1v1h-1zM656 147h1v1h-1zM657 146h2v1h-2zM659 145h1v1h-1zM660 144h1v1h-1zM661 143h1v1h-1zM662 142h2v1h-2zM664 141h1v1h-1zM665 140h1v1h-1zM666 139h1v1h-1zM667 138h1v1h-1zM668 137h2v1h-2zM670 136h1v1h-1zM671 135h1v1h-1zM672 134h1v1h-1zM673 133h2v1h-2zM675 132h1v1h-1zM676 131h1v1h-1zM677 130h1v1h-1zM678 129h2v1h-2zM680 128h1v1h-1zM681 127h1v1h-1zM682 126h1v1h-1zM683 125h1v1h-1zM684 124h2v1h-2zM686 123h1v1h-1zM687 122h1v1h-1zM688 121h1v1h-1zM689 120h2v1h-2zM691 119h1v1h-1zM692 118h1v1h-1zM693 117h1v1h-1zM694 116h2v1h-2zM696 115h1v1h-1zM697 114h1v1h-1zM698 113h1v1h-1zM699 112h1v1h-1zM700 111h2v1h-2zM702 110h1v1h-1zM703 109h1v1h-1zM704 108h1v1h-1zM705 107h2v1h-2zM707 106h1v1h-1zM708 105h1v1h-1zM709 104h1v1h-1zM710 103h2v1h-2zM712 102h1v1h-1zM713 101h1v1h-1zM714 100h1v1h-1zM715 99h1v1h-1zM716 98h2v1h-2zM718 97h1v1h-1zM719 96h1v1h-1zM720 95h1v1h-1zM721 94h2v1h-2zM723 93h1v1h-1zM724 92h1v1h-1zM725 91h1v1h-1zM726 90h2v1h-2zM728 89h1v1h-1zM729 88h1v1h-1zM730 87h1v1h-1zM731 86h1v1h-1zM732 85h2v1h-2zM734 84h1v1h-1zM735 83h1v1h-1zM736 82h1v1h-1zM737 81h2v1h-2zM739 80h1v1h-1zM740 79h1v1h-1zM741 78h1v1h-1zM742 77h2v1h-2zM744 76h1v1h-1zM745 75h1v1h-1zM746 74h1v1h-1zM747 73h1v1h-1zM748 72h2v1h-2zM750 71h1v1h-1zM751 70h1v1h-1zM752 69h1v1h-1zM753 68h2v1h-2zM755 67h1v1h-1zM756 66h1v1h-1zM757 65h1v1h-1zM758 64h2v1h-2zM760 63h1v1h-1zM761 62h1v1h-1zM762 61h1v1h-1zM763 60h1v1h-1zM764 59h2v1h-2zM766 58h1v1h-1zM767 57h1v1h-1zM768 56h1v1h-1zM769 55h2v1h-2zM771 54h1v1h-1zM772 53h1v1h-1zM773 52h1v1h-1zM774 51h2v1h-2zM776 50h1v1h-1zM777 49h1v1h-1zM778 48h1v1h-1zM779 47h1v1h-1zM780 46h2v1h-2zM782 45h1v1h-1zM783 44h1v1h-1zM784 43h1v1h-1zM785 42h2v1h-2zM787 41h1v1h-1zM788 40h1v1h-1zM789 39h1v1h-1zM790 38h2v1h-2zM792 37h1v1h-1zM793 36h1v1h-1zM794 35h1v1h-1zM795 34h1v1h-1zM796 33h2v1h-2zM798 32h1v1h-1zM799 31h1v1h-1zM800 30h1v1h-1zM801 29h2v1h-2zM803 28h1v1h-1zM804 27h1v1h-1zM805 26h1v1h-1zM806 25h2v1h-2zM808 24h1v1h-1zM809 23h1v1h-1zM810 22h1v1h-1zM811 21h1v1h-1zM812 20h2v1h-2zM814 19h1v1h-1zM815 18h1v1h-1zM816 17h1v1h-1zM817 16h2v1h-2zM819 15h1v1h-1zM820 14h1v1h-1zM821 13h1v1h-1zM822 12h2v1h-2zM824 11h1v1h-1zM825 10h1v1h-1zM826 9h1v1h-1zM827 8h1v1h-1zM828 7h2v1h-2zM830 6h1v1h-1zM831 5h1v1h-1zM832 4h1v1h-1zM833 3h2v1h-2zM835 2h1v1h-1zM836 1h1v1h-1zM837 0h1v1h-1zM753 0h2v1h-2zM755 1h1v1h-1zM756 2h2v1h-2zM758 3h1v1h-1zM759 4h1v1h-1zM760 5h2v1h-2zM762 6h1v1h-1zM763 7h2v1h-2zM765 8h1v1h-1zM766 9h2v1h-2zM768 10h1v1h-1zM769 11h1v1h-1zM770 12h2v1h-2zM772 13h1v1h-1zM773 14h2v1h-2zM775 15h1v1h-1zM776 16h2v1h-2zM778 17h1v1h-1zM779 18h1v1h-1zM780 19h2v1h-2zM782 20h1v1h-1zM783 21h2v1h-2zM785 22h1v1h-1zM786 23h2v1h-2zM788 24h1v1h-1zM789 25h1v1h-1zM790 26h2v1h-2zM792 27h1v1h-1zM793 28h2v1h-2zM795 29h1v1h-1zM796 30h2v1h-2zM798 31h1v1h-1zM799 32h1v1h-1zM800 33h2v1h-2zM802 34h1v1h-1zM803 35h2v1h-2zM805 36h1v1h-1zM806 37h2v1h-2zM808 38h1v1h-1zM809 39h2v1h-2zM811 40h1v1h-1zM812 41h1v1h-1zM813 42h2v1h-2zM815 43h1v1h-1zM816 44h2v1h-2zM818 45h1v1h-1zM819 46h2v1h-2zM821 47h1v1h-1zM822 48h1v1h-1zM823 49h2v1h-2zM825 50h1v1h-1zM826 51h2v1h-2zM828 52h1v1h-1zM829 53h2v1h-2zM831 54h1v1h-1zM832 55h1v1h-1zM833 56h2v1h-2zM835 57h1v1h-1zM836 58h2v1h-2zM838 59h1v1h-1zM839 60h2v1h-2zM841 61h1v1h-1zM842 62h1v1h-1zM843 63h2v1h-2zM845 64h1v1h-1zM846 65h2v1h-2zM848 66h1v1h-1zM849 67h2v1h-2zM851 68h1v1h-1zM852 69h1v1h-1zM853 70h2v1h-2zM855 71h1v1h-1zM856 72h2v1h-2zM858 73h1v1h-1zM859 74h2v1h-2zM861 75h1v1h-1zM862 76h1v1h-1zM863 77h2v1h-2zM865 78h1v1h-1zM866 79h2v1h-2zM868 80h1v1h-1zM869 81h2v1h-2zM871 82h1v1h-1zM872 83h1v1h-1zM873 84h2v1h-2zM875 85h1v1h-1zM876 86h2v1h-2zM878 87h1v1h-1zM879 88h2v1h-2zM881 89h1v1h-1zM882 90h1v1h-1zM883 91h2v1h-2zM885 92h1v1h-1zM886 93h2v1h-2zM888 94h1v1h-1zM889 95h2v1h-2zM891 96h1v1h-1zM892 97h1v1h-1zM893 98h2v1h-2zM895 99h1v1h-1zM896 100h2v1h-2zM898 101h1v1h-1zM899 102h2v1h-2zM901 103h1v1h-1zM902 104h1v1h-1zM903 105h2v1h-2zM905 106h1v1h-1zM906 107h2v1h-2zM908 108h1v1h-1zM909 109h2v1h-2zM911 110h1v1h-1zM912 111h1v1h-1zM913 112h2v1h-2zM915 113h1v1h-1zM916 114h2v1h-2zM918 115h1v1h-1zM919 116h2v1h-2zM921 117h1v1h-1zM922 118h1v1h-1zM923 119h2v1h-2zM925 120h1v1h-1zM926 121h2v1h-2zM928 122h1v1h-1zM929 123h2v1h-2zM931 124h1v1h-1zM932 125h1v1h-1zM933 126h2v1h-2zM935 127h1v1h-1zM936 128h2v1h-2zM938 129h1v1h-1zM939 130h2v1h-2zM941 131h1v1h-1zM942 132h2v1h-2zM944 133h1v1h-1zM945 134h1v1h-1zM946 135h2v1h-2zM948 136h1v1h-1zM949 137h2v1h-2zM951 138h1v1h-1zM952 139h2v1h-2zM954 140h1v1h-1zM955 141h1v1h-1zM956 142h2v1h-2zM958 143h1v1h-1zM959 144h2v1h-2zM961 145h1v1h-1zM962 146h2v1h-2zM964 147h1v1h-1zM965 148h1v1h-1zM966 149h2v1h-2zM968 150h1v1h-1zM969 151h2v1h-2zM971 152h1v1h-1zM972 153h2v1h-2zM974 154h1v1h-1zM975 155h1v1h-1zM976 156h2v1h-2zM978 157h1v1h-1zM979 158h2v1h-2zM981 159h1v1h-1zM982 160h2v1h-2zM984 161h1v1h-1zM985 162h1v1h-1zM986 163h2v1h-2zM988 164h1v1h-1zM989 165h2v1h-2zM991 166h1v1h-1zM992 167h2v1h-2zM994 168h1v1h-1zM995 169h1v1h-1zM996 170h2v1h-2zM998 171h1v1h-1zM999 172h1v1h-1zM812 0h2v1h-2zM814 1h1v1h-1zM815 2h2v1h-2zM817 3h1v1h-1zM818 4h2v1h-2zM820 5h1v1h-1zM821 6h2v1h-2zM823 7h1v1h-1zM824 8h2v1h-2zM826 9h1v1h-1zM827 10h2v1h-2zM829 11h1v1h-1zM830 12h2v1h-2zM832 13h1v1h-1zM833 14h2v1h-2zM835 15h1v1h-1zM836 16h2v1h-2zM838 17h1v1h-1zM839 18h1v1h-1zM840 19h2v1h-2zM842 20h1v1h-1zM843 21h2v1h-2zM845 22h1v1h-1zM846 23h2v1h-2zM848 24h1v1h-1zM849 25h2v1h-2zM851 26h1v1h-1zM852 27h2v1h-2zM854 28h1v1h-1zM855 29h2v1h-2zM857 30h1v1h-1zM858 31h2v1h-2zM860 32h1v1h-1zM861 33h2v1h-2zM863 34h1v1h-1zM864 35h2v1h-2zM866 36h1v1h-1zM867 37h2v1h-2zM869 38h1v1h-1zM870 39h2v1h-2zM872 40h1v1h-1zM873 41h2v1h-2zM875 42h1v1h-1zM876 43h2v1h-2zM878 44h1v1h-1zM879 45h2v1h-2zM881 46h1v1h-1zM882 47h1v1h-1zM883 48h2v1h-2zM885 49h1v1h-1zM886 50h2v1h-2zM888 51h1v1h-1zM889 52h2v1h-2zM891 53h1v1h-1zM892 54h2v1h-2zM894 55h1v1h-1zM895 56h2v1h-2zM897 57h1v1h-1zM898 58h2v1h-2zM900 59h1v1h-1zM901 60h2v1h-2zM903 61h1v1h-1zM904 62h2v1h-2zM906 63h1v1h-1zM907 64h2v1h-2zM909 65h1v1h-1zM910 66h2v1h-2zM912 67h1v1h-1zM913 68h2v1h-2zM915 69h1v1h-1zM916 70h2v1h-2zM918 71h1v1h-1zM919 72h2v1h-2zM921 73h1v1h-1zM922 74h1v1h-1zM923 75h2v1h-2zM925 76h1v1h-1zM926 77h2v1h-2zM928 78h1v1h-1zM929 79h2v1h-2zM931 80h1v1h-1zM932 81h2v1h-2zM934 82h1v1h-1zM935 83h2v1h-2zM937 84h1v1h-1zM938 85h2v1h-2zM940 86h1v1h-1zM941 87h2v1h-2zM943 88h1v1h-1zM944 89h2v1h-2zM946 90h1v1h-1zM947 91h2v1h-2zM949 92h1v1h-1zM950 93h2v1h-2zM952 94h1v1h-1zM953 95h2v1h-2zM955 96h1v1h-1zM956 97h2v1h-2zM958 98h1v1h-1zM959 99h2v1h-2zM961 100h1v1h-1zM962 101h2v1h-2zM964 102h1v1h-1zM965 103h1v1h-1zM966 104h2v1h-2zM968 105h1v1h-1zM969 106h2v1h-2zM971 107h1v1h-1zM972 108h2v1h-2zM974 109h1v1h-1zM975 110h2v1h-2zM977 111h1v1h-1zM978 112h2v1h-2zM980 113h1v1h-1zM981 114h2v1h-2zM983 115h1v1h-1zM984 116h2v1h-2zM986 117h1v1h-1zM987 118h2v1h-2zM989 119h1v1h-1zM990 120h2v1h-2zM992 121h1v1h-1zM993 122h2v1h-2zM995 123h1v1h-1zM996 124h2v1h-2zM998 125h1v1h-1zM999 126h1v1h-1z"/>
<path d="M811.5 33.5L822 49.3L827.3 29.4M827.3 29.4L819.5 39L821.5 47M811.5 36L815 40.5L819.5 39L816 45" fill="none" stroke="#a8a8a8" stroke-width="0.9"/><circle cx="811.3" cy="33" r="1.2" fill="none" stroke="#a8a8a8" stroke-width="0.8"/><path d="M813 19.5H817.5V32" fill="none" stroke="#a8a8a8" stroke-width="1"/><path d="M778.5 11.5L788.2 1.5L795.0 12.0M795.0 12.0L791.3 -8.2L789.1 2.9L778.1 0.3Z" fill="none" stroke="#ff9400" stroke-width="1" stroke-linejoin="miter"/><path d="M801.8 11.5L811.5 1.5L818.3 12.0M818.3 12.0L814.6 -8.2L812.4 2.9L801.4 0.3Z" fill="none" stroke="#ff9400" stroke-width="1" stroke-linejoin="miter"/><path d="M879.5 128.0L896.0 166.5L919.0 113.0M919.0 113.0L904.3 127.3L914.7 122.9L918.7 133.5Z" fill="none" stroke="#4080ff" stroke-width="1.1" stroke-linejoin="miter"/><path d="M883.3 191.0L899.0 226.5L919.5 192.5M919.5 192.5L903.0 204.7L913.9 201.7L916.4 212.8Z" fill="none" stroke="#a8a8a8" stroke-width="1" stroke-linejoin="miter"/><path d="M894.4 238.0L914.4 285.8L937.5 243.2M937.5 243.2L921.6 256.1L932.4 252.7L935.3 263.6Z" fill="none" stroke="#a8a8a8" stroke-width="1" stroke-linejoin="miter"/><path d="M909.1 362.2L925.4 406.4L952.1 360.5M952.1 360.5L935.8 373.0L946.7 369.8L949.3 380.8Z" fill="none" stroke="#a8a8a8" stroke-width="1" stroke-linejoin="miter"/><rect x="999" y="127" width="1" height="2" fill="#4080ff"/>
</svg></body></html>
